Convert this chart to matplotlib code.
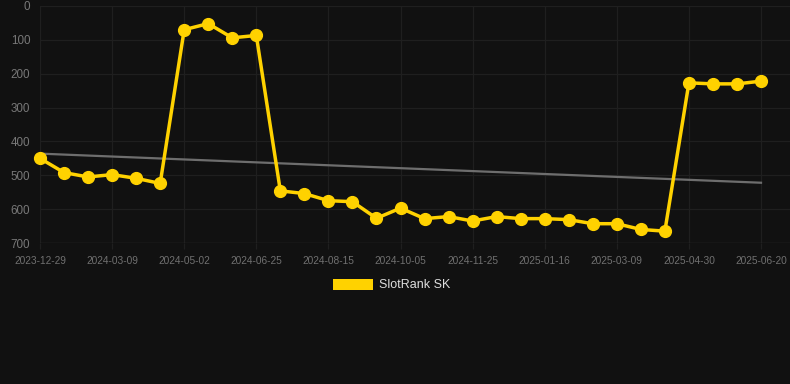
import matplotlib
matplotlib.use("Agg")
import matplotlib.pyplot as plt
import numpy as np
from matplotlib.patches import Rectangle

plt.rcParams['font.family'] = ['Liberation Sans', 'DejaVu Sans']

tick_labels = ["2023-12-29", "2024-03-09", "2024-05-02", "2024-06-25", "2024-08-15",
               "2024-10-05", "2024-11-25", "2025-01-16", "2025-03-09", "2025-04-30", "2025-06-20"]
values = [450, 492, 505, 498, 509, 524, 70, 52, 94, 87,
          546, 554, 575, 578, 627, 597, 628, 622, 635, 622,
          628, 628, 631, 643, 643, 660, 665, 227, 230, 230, 222]
trend_ends = [436, 522]
series_name = "SlotRank SK"

W, H = 790, 384
fig = plt.figure(figsize=(W / 100, H / 100), dpi=100)
fig.patch.set_facecolor("#111111")
ax = fig.add_axes([40 / W, 1 - 243 / H, (790 - 40) / W, (243 - 6) / H])
ax.set_facecolor("#111111")

n = len(values)
x = np.arange(n)
px_per = (761 - 40) / (n - 1)
ax.set_xlim(0, (790 - 40) / px_per)
ax.set_ylim(700, 0)

ax.plot([0, n - 1], trend_ends, color="#6e6e6e", lw=1.6, zorder=2)
ax.plot(x, values, color="#FFD200", lw=2.5, marker="o", ms=8.5,
        markerfacecolor="#FFD200", markeredgecolor="#FFD200", zorder=3,
        clip_on=False)

ax.set_yticks(range(0, 701, 100))
ax.set_xticks(x[::3])
ax.set_xticklabels(tick_labels)
ax.grid(True, color="#1f1f1f", lw=0.9)
ax.set_axisbelow(True)
for s in ax.spines.values():
    s.set_visible(False)
ax.axhline(700, color="#2b2b2b", lw=1.0, zorder=1)
ax.tick_params(axis="x", colors="#1f1f1f", labelcolor="#707070", labelsize=7.3,
               length=4, width=0.9, pad=5)
ax.tick_params(axis="y", colors="#787878", labelsize=8.4, length=0, pad=7)

# legend
fig.patches.append(Rectangle((333 / W, 1 - 290 / H), 40 / W, 11 / H,
                             transform=fig.transFigure, facecolor="#FFD200",
                             edgecolor="none"))
fig.text(379 / W, 1 - 285 / H, series_name, color="#dddddd", fontsize=9,
         va="center", ha="left")

fig.savefig("out.png", dpi=100, facecolor=fig.get_facecolor())
